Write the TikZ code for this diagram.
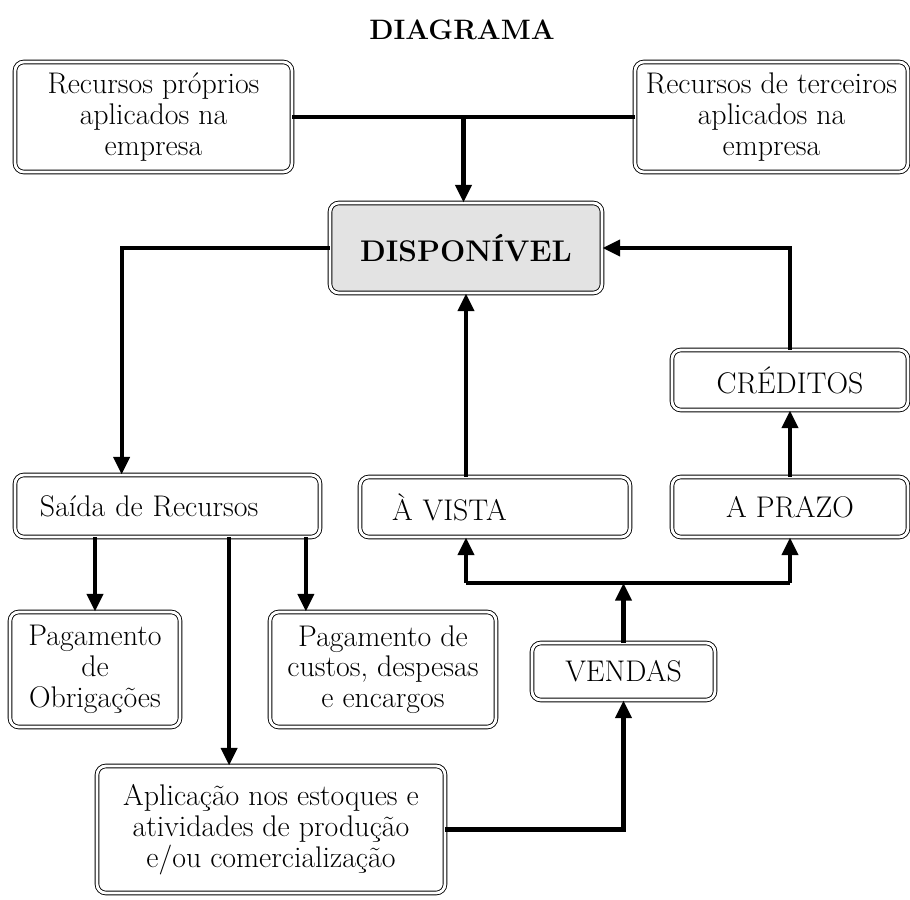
\documentclass[tikz,border=0pt]{standalone}
\usepackage{tikz}
\usetikzlibrary{arrows.meta,positioning,calc}
\usepackage{xcolor}

\begin{document}
\begin{tikzpicture}[x=0.2mm,y=-0.2mm,
  box/.style={draw,line width=0.5pt,double=white,double distance=1.6pt,rounded corners=5pt,
    align=center,inner sep=2pt,font=\fontsize{17}{17.5}\selectfont},
  arr/.style={line width=2.3pt,-{Triangle[length=10pt,width=9pt]}},
  lin/.style={line width=2.3pt}]
\useasboundingbox (0,0) rectangle (910,900);
\node[font=\fontsize{16}{17}\selectfont\bfseries] (title) at (462,30) {DIAGRAMA};
\node[box,minimum width=55.4mm,minimum height=22mm] (rp) at (153.5,117) {Recursos próprios\\aplicados na\\empresa};
\node[box,minimum width=54.6mm,minimum height=22mm] (rt) at (771.5,117) {Recursos de terceiros\\aplicados na\\empresa};
\node[box,fill=gray!22,minimum width=54.4mm,minimum height=18mm] (disp) at (466,248) {\bfseries DISPONÍVEL};
\node[box,minimum width=47.2mm,minimum height=12mm] (cred) at (790,380) {CRÉDITOS};
\node[box,minimum width=47.2mm,minimum height=12mm] (prazo) at (790,507) {A PRAZO};
\node[box,align=left,inner xsep=6.4mm,text width=41.2mm,minimum height=12mm] (vista) at (495,507) {À VISTA};
\node[box,align=left,inner xsep=5mm,text width=51mm,minimum height=12.4mm] (saida) at (167.5,506) {Saída de Recursos};
\node[box,minimum width=34mm,minimum height=23mm] (pobr) at (95,669.5) {Pagamento\\de\\Obrigações};
\node[box,minimum width=45.2mm,minimum height=23mm] (custos) at (383,669.5) {Pagamento de\\custos, despesas\\e encargos};
\node[box,minimum width=69.6mm,minimum height=25.4mm] (aplic) at (271,829.5) {Aplicação nos estoques e\\atividades de produção\\e/ou comercialização};
\node[box,minimum width=36.6mm,minimum height=11.4mm] (vendas) at (623.5,671.5) {VENDAS};
\coordinate (jt) at ($(rp.east)!.5!(rt.west)$);
\coordinate (jv) at (623.5,583);
% entradas
\draw[lin] (rp.east) -- (rt.west);
\draw[arr] (jt) -- (jt |- disp.north);
\draw[arr] (disp.west) -| ($(saida.north west)!0.35!(saida.north east)$);
\draw[arr] (vista.north -| disp.south) -- (disp.south);
\draw[arr] (cred.north) |- (disp.east);
\draw[arr] (prazo.north) -- (cred.south);
% saidas
\draw[arr] (saida.south -| {$(custos.north west)!0.16!(custos.north east)$}) -- ($(custos.north west)!0.16!(custos.north east)$);
\draw[arr] (saida.south -| pobr.north) -- (pobr.north);
\draw[arr] (saida.south -| {$(aplic.north west)!0.38!(aplic.north east)$}) -- ($(aplic.north west)!0.38!(aplic.north east)$);
\draw[arr] (aplic.east) -| (vendas.south);
\draw[arr] (vendas.north) -- (jv);
\draw[lin] (jv -| disp.south) -- (jv -| prazo.south);
\draw[arr] (jv -| disp.south) -- (vista.south -| disp.south);
\draw[arr] (jv -| prazo.south) -- (prazo.south);
\end{tikzpicture}
\end{document}
